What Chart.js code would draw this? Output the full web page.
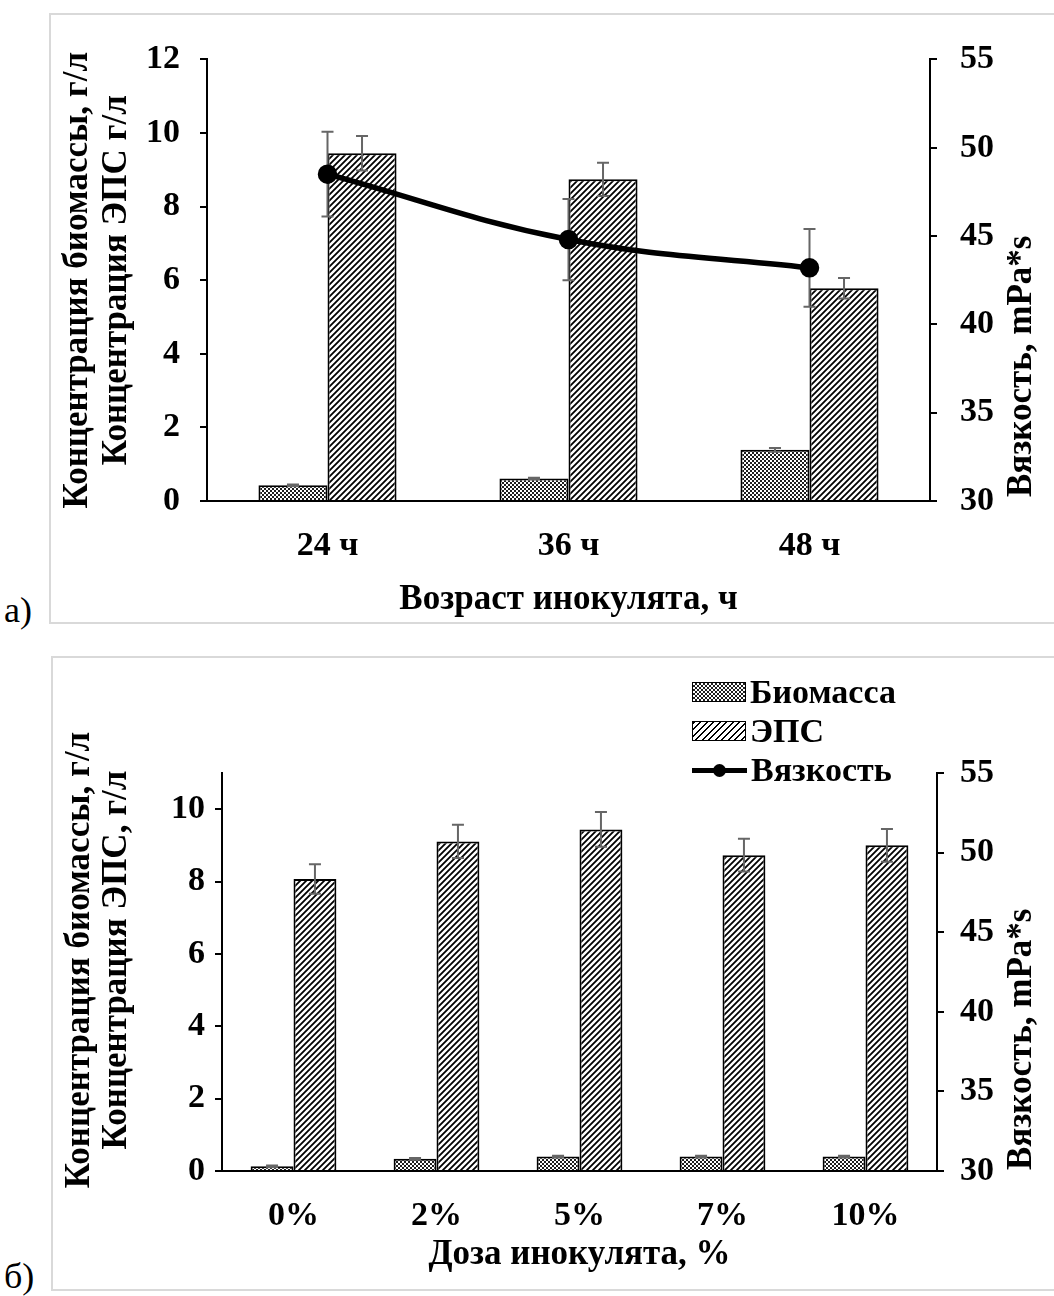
<!DOCTYPE html>
<html>
<head>
<meta charset="utf-8">
<script src="https://cdn.jsdelivr.net/npm/chart.js@4.4.1/dist/chart.umd.min.js"></script>
<style>
  html, body { margin: 0; padding: 0; background: #fff; }
  body { width: 1054px; height: 1296px; position: relative; overflow: hidden; font-family: 'Liberation Serif', 'Times New Roman', serif; }
  .frame { position: absolute; border: 2px solid #d9d9d9; }
  #frameA { left: 49px; top: 13px; width: 1020px; height: 607px; }
  #frameB { left: 51px; top: 656px; width: 1020px; height: 631px; }
  canvas { position: absolute; }
  #chartA { left: 52px; top: 16px; }
  #chartB { left: 54px; top: 659px; }
  .tag { position: absolute; left: 4px; font-size: 36px; line-height: 36px; }
  .lg-row { position: absolute; left: 692px; height: 40px; display: flex; align-items: center; font-weight: bold; font-size: 34px; }
  .sw { width: 52px; height: 18px; border: 1.5px solid #000; margin-right: 4px; }
  .sw.bio { background: repeating-conic-gradient(#1e1e1e 0 25%, #fff 0 50%) 0 0 / 4px 4px; }
  .sw.eps { background: repeating-linear-gradient(135deg, #000 0 1.6px, #fff 1.6px 4.6px); }
  .ln { width: 55px; height: 21px; position: relative; margin-right: 4px; }
  .ln::before { content: ''; position: absolute; left: 0; right: 0; top: 8px; height: 5px; background: #000; }
  .ln::after { content: ''; position: absolute; left: 21px; top: 4px; width: 13px; height: 13px; border-radius: 50%; background: #000; }
</style>
</head>
<body>
<div class="frame" id="frameA"></div>
<div class="frame" id="frameB"></div>
<canvas id="chartA" width="1002" height="605"></canvas>
<canvas id="chartB" width="1000" height="629"></canvas>
<div class="tag" style="top:592px">а)</div>
<div class="tag" style="top:1258px">б)</div>
<div class="lg-row" style="top:672px"><div class="sw bio"></div>Биомасса</div>
<div class="lg-row" style="top:711px"><div class="sw eps"></div>ЭПС</div>
<div class="lg-row" style="top:750px"><div class="ln"></div>Вязкость</div>
<script>
// данные (а) — возраст инокулята
const ageLabels = ['24 ч', '36 ч', '48 ч'];
const ageBiomass = [0.43, 0.61, 1.39];
const ageBiomassErr = [0.02, 0.02, 0.05];
const ageEps = [9.45, 8.74, 5.78];
const ageEpsErr = [0.47, 0.45, 0.28];
const ageViscosity = [48.5, 44.8, 43.2];
const ageViscosityErr = [2.4, 2.3, 2.2];

// данные (б) — доза инокулята
const doseLabels = ['0%', '2%', '5%', '7%', '10%'];
const doseBiomass = [0.13, 0.34, 0.40, 0.40, 0.40];
const doseBiomassErr = [0.02, 0.02, 0.02, 0.02, 0.02];
const doseEps = [8.07, 9.11, 9.44, 8.73, 9.00];
const doseEpsErr = [0.41, 0.46, 0.48, 0.45, 0.45];

// подписи делений
const concTicksA = [0, 2, 4, 6, 8, 10, 12];
const concTicksB = [0, 2, 4, 6, 8, 10];
const viscTicks = [30, 35, 40, 45, 50, 55];

Chart.defaults.font.family = "'Liberation Serif', 'Times New Roman', serif";
Chart.defaults.color = '#000';
Chart.defaults.animation = false;

const tickFont = { size: 34, weight: 'bold' };
const titleFont = 'bold 35px "Liberation Serif"';

function checkerPattern(ctx) {
    const c = document.createElement('canvas');
    c.width = 4; c.height = 4;
    const g = c.getContext('2d');
    g.fillStyle = '#fff'; g.fillRect(0, 0, 4, 4);
    g.fillStyle = '#1e1e1e';
    g.fillRect(0, 0, 2, 2); g.fillRect(2, 2, 2, 2);
    return ctx.createPattern(c, 'repeat');
}

function stripePattern(ctx) {
    const s = 6;
    const c = document.createElement('canvas');
    c.width = s; c.height = s;
    const g = c.getContext('2d');
    g.fillStyle = '#fff'; g.fillRect(0, 0, s, s);
    g.strokeStyle = '#000'; g.lineWidth = 1.8;
    g.beginPath();
    g.moveTo(-1, s + 1); g.lineTo(s + 1, -1);
    g.moveTo(-1, 1); g.lineTo(1, -1);
    g.moveTo(s - 1, s + 1); g.lineTo(s + 1, s - 1);
    g.stroke();
    return ctx.createPattern(c, 'repeat');
}

function drawErrors(chart, i) {
    const ds = chart.data.datasets[i];
    if (!ds.errors) return;
    const meta = chart.getDatasetMeta(i);
    const sc = chart.scales[meta.yAxisID];
    const ctx = chart.ctx;
    ctx.save();
    ctx.strokeStyle = '#666';
    ctx.lineWidth = 2;
    meta.data.forEach((el, j) => {
        const v = ds.data[j], e = ds.errors[j];
        const x = el.x;
        const y1 = sc.getPixelForValue(v + e), y2 = sc.getPixelForValue(v - e);
        ctx.beginPath();
        ctx.moveTo(x, y1); ctx.lineTo(x, y2);
        ctx.moveTo(x - 6, y1); ctx.lineTo(x + 6, y1);
        ctx.moveTo(x - 6, y2); ctx.lineTo(x + 6, y2);
        ctx.stroke();
    });
    ctx.restore();
}

const errorBars = {
    id: 'errorBars',
    beforeDatasetDraw(chart, args) {
        if (chart.data.datasets[args.index].type === 'line') drawErrors(chart, args.index);
    },
    afterDatasetDraw(chart, args) {
        if (chart.data.datasets[args.index].type !== 'line') drawErrors(chart, args.index);
    }
};

// заголовки осей Y рисуем сами (без сжатия, правый — снизу вверх)
const axisTitles = {
    id: 'axisTitles',
    afterDraw(chart, args, opts) {
        const ctx = chart.ctx;
        const area = chart.chartArea;
        ctx.save();
        ctx.font = titleFont;
        ctx.fillStyle = '#000';
        ctx.textBaseline = 'middle';
        opts.left.forEach((t, k) => {
            ctx.save();
            ctx.translate(opts.leftX[k], (area.top + area.bottom) / 2 + opts.leftShift);
            ctx.rotate(-Math.PI / 2);
            ctx.textAlign = 'center';
            ctx.fillText(t, 0, 0);
            ctx.restore();
        });
        ctx.save();
        ctx.translate(chart.width - opts.rightInset, area.bottom - opts.rightLift);
        ctx.rotate(-Math.PI / 2);
        ctx.textAlign = 'left';
        ctx.fillText(opts.right, 0, 0);
        ctx.restore();
        ctx.restore();
    }
};

function yAxis(pos, min, max, ticks, pad, width) {
    return {
        position: pos,
        min: min,
        max: max,
        afterBuildTicks: s => { s.ticks = ticks.map(v => ({ value: v })); },
        afterFit: s => { s.width = width; },
        grid: { drawOnChartArea: false, drawTicks: true, tickLength: 7, color: '#000', lineWidth: 2 },
        border: { display: true, color: '#000', width: 2 },
        ticks: { padding: pad, color: '#000', font: tickFont }
    };
}

function xAxis(title, height, pad, titlePad) {
    return {
        type: 'category',
        offset: true,
        afterFit: s => { s.height = height; },
        grid: { display: false, drawTicks: false },
        border: { display: true, color: '#000', width: 2 },
        ticks: { padding: pad, color: '#000', font: tickFont },
        title: { display: true, text: title, color: '#000', font: { size: 35, weight: 'bold' }, padding: { top: 0, bottom: titlePad } }
    };
}

// (а)
const ctxA = document.getElementById('chartA').getContext('2d');
new Chart(ctxA, {
    data: {
        labels: ageLabels,
        datasets: [
            {
                type: 'line', label: 'Вязкость', data: ageViscosity, errors: ageViscosityErr,
                yAxisID: 'y2', borderColor: '#000', borderWidth: 5.5, tension: 0.4,
                pointRadius: 7, pointBackgroundColor: '#000', pointBorderColor: '#000', order: 0
            },
            {
                type: 'bar', label: 'Биомасса', data: ageBiomass, errors: ageBiomassErr,
                yAxisID: 'y', backgroundColor: checkerPattern(ctxA), borderColor: '#000', borderWidth: 2,
                categoryPercentage: 0.573, barPercentage: 1, order: 1
            },
            {
                type: 'bar', label: 'ЭПС', data: ageEps, errors: ageEpsErr,
                yAxisID: 'y', backgroundColor: stripePattern(ctxA), borderColor: '#000', borderWidth: 2,
                categoryPercentage: 0.573, barPercentage: 1, order: 2
            }
        ]
    },
    options: {
        responsive: false,
        layout: { padding: { top: 23, left: 0, right: 0, bottom: 0 } },
        plugins: {
            legend: { display: false },
            tooltip: { enabled: false },
            axisTitles: {
                left: ['Концентрация биомассы, г/л', 'Концентрация ЭПС г/л'],
                leftX: [26, 65],
                leftShift: 0,
                right: 'Вязкость, mPa*s',
                rightInset: 32,
                rightLift: 4
            }
        },
        scales: {
            x: xAxis('Возраст инокулята, ч', 120, 25, 0),
            y: yAxis('left', 0, 12, concTicksA, 20, 155),
            y2: yAxis('right', 30, 55, viscTicks, 23, 124)
        }
    },
    plugins: [errorBars, axisTitles]
});

// (б)
const ctxB = document.getElementById('chartB').getContext('2d');
new Chart(ctxB, {
    data: {
        labels: doseLabels,
        datasets: [
            {
                type: 'bar', label: 'Биомасса', data: doseBiomass, errors: doseBiomassErr,
                yAxisID: 'y', backgroundColor: checkerPattern(ctxB), borderColor: '#000', borderWidth: 2,
                categoryPercentage: 0.6, barPercentage: 1, order: 1
            },
            {
                type: 'bar', label: 'ЭПС', data: doseEps, errors: doseEpsErr,
                yAxisID: 'y', backgroundColor: stripePattern(ctxB), borderColor: '#000', borderWidth: 2,
                categoryPercentage: 0.6, barPercentage: 1, order: 2
            }
        ]
    },
    options: {
        responsive: false,
        layout: { padding: { top: 114, left: 0, right: 0, bottom: 0 } },
        plugins: {
            legend: { display: false },
            tooltip: { enabled: false },
            axisTitles: {
                left: ['Концентрация биомассы, г/л', 'Концентрация ЭПС, г/л'],
                leftX: [26, 63],
                leftShift: -12,
                right: 'Вязкость, mPa*s',
                rightInset: 32,
                rightLift: 1
            }
        },
        scales: {
            x: xAxis('Доза инокулята, %', 117, 25, 12),
            y: yAxis('left', 0, 11, concTicksB, 10, 168),
            y2: yAxis('right', 30, 55, viscTicks, 16, 117)
        }
    },
    plugins: [errorBars, axisTitles]
});
</script>
</body>
</html>
